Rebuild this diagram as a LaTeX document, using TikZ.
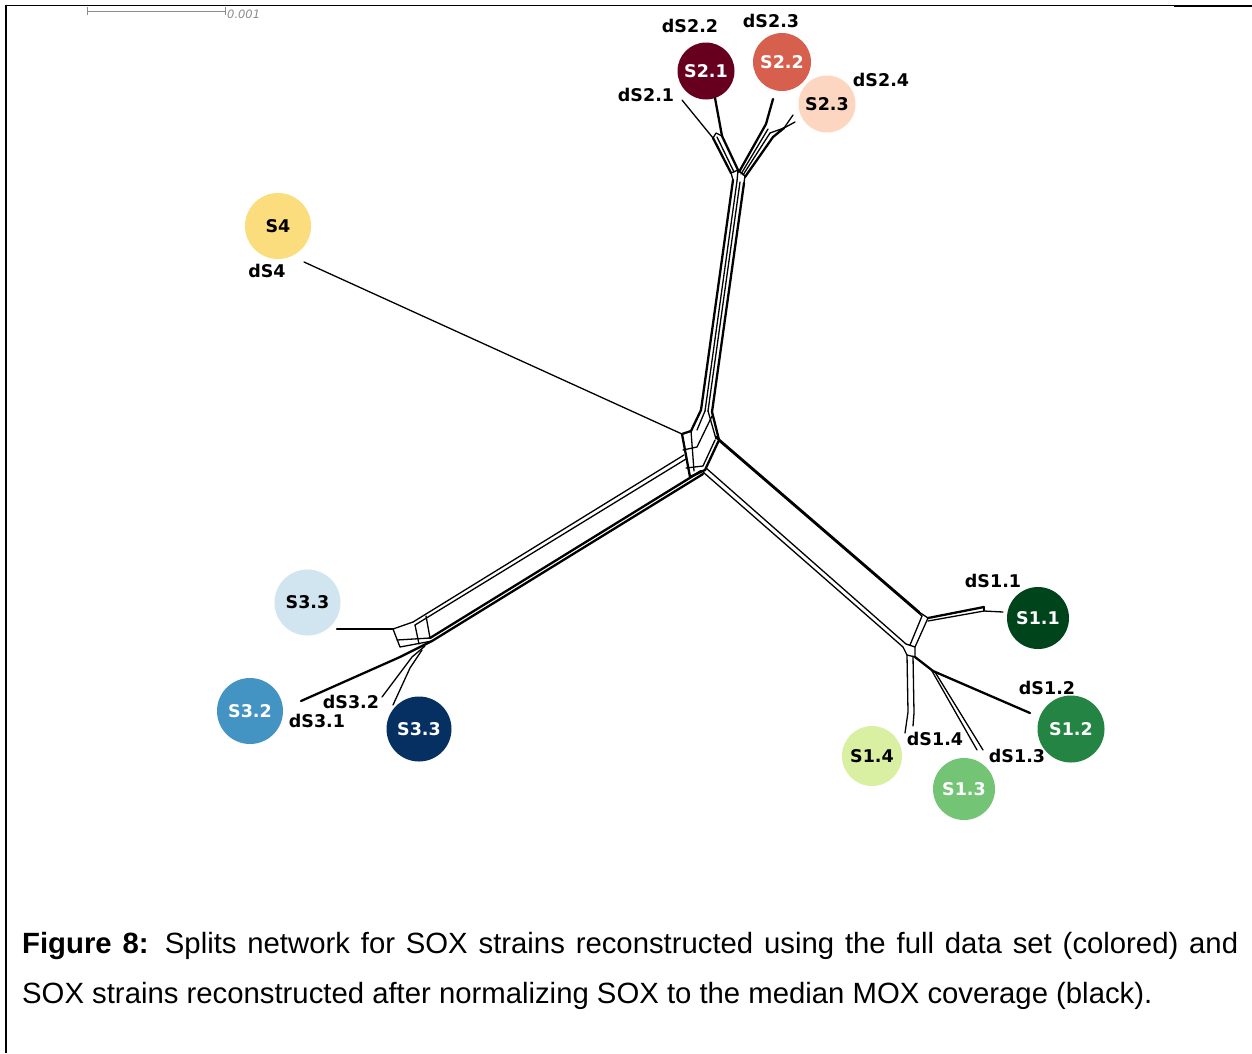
\documentclass[tikz,border=0pt]{standalone}
\usepackage{fontspec}
\setmainfont{Liberation Sans}
\newfontfamily\netfont{DejaVu Sans}
\definecolor{cSa}{HTML}{67001F}
\definecolor{cSb}{HTML}{D6604D}
\definecolor{cSc}{HTML}{FCD6C0}
\definecolor{cSf}{HTML}{FBDD7E}
\definecolor{cTa}{HTML}{D1E5F0}
\definecolor{cTb}{HTML}{4393C3}
\definecolor{cTc}{HTML}{053061}
\definecolor{cUa}{HTML}{00441B}
\definecolor{cUb}{HTML}{238443}
\definecolor{cUc}{HTML}{74C476}
\definecolor{cUd}{HTML}{D9F0A3}
\definecolor{bargray}{HTML}{8C8C8C}
\tikzset{
  strain/.style={circle, inner sep=0pt, minimum size=64pt, draw=none,
    font=\netfont\bfseries\fontsize{17.5}{17.5}\selectfont},
  lbl/.style={inner sep=0pt, font=\netfont\bfseries\fontsize{17.5}{17.5}\selectfont},
  net/.style={line width=1.3pt, line join=round, line cap=round},
  netthick/.style={line width=2.3pt, line join=round, line cap=round},
  capline/.style={anchor=base west, inner sep=0pt, font=\fontsize{29.3}{29.3}\selectfont}
}
\begin{document}
\begin{tikzpicture}[x=1pt,y=-1pt]
\useasboundingbox (0,0) rectangle (1252,1053);
\fill[white] (0,0) rectangle (1252,1053);
% frame
\draw[line width=2.2pt] (6.3,4.7) -- (6.3,1053);
\draw[line width=1pt] (6.3,5.2) -- (1174,5.2);
\draw[line width=2pt] (1174,5.7) -- (1252,5.7);
% scale bar
\draw[bargray, line width=1pt] (87,11) -- (225,11);
\draw[bargray, line width=1pt] (87,7) -- (87,15);
\draw[bargray, line width=1pt] (225,7) -- (225,15);
\node[anchor=west, inner sep=0pt, text=bargray, font=\netfont\itshape\fontsize{11.5}{11.5}\selectfont] (scale) at (227,14) {0.001};

% ---------- strain circles ----------
\node[strain, minimum size=57pt, fill=cSa, text=white] (s21) at (706,71) {S2.1};
\node[strain, minimum size=58pt, fill=cSb, text=white] (s22) at (782,62) {S2.2};
\node[strain, minimum size=57pt, fill=cSc, text=black] (s23) at (827,104) {S2.3};
\node[strain, minimum size=66pt, fill=cSf, text=black] (s4) at (278,226) {S4};
\node[strain, minimum size=66pt, fill=cTa, text=black] (s33a) at (307.5,602.5) {S3.3};
\node[strain, minimum size=66pt, fill=cTb, text=white] (s32) at (250,711) {S3.2};
\node[strain, minimum size=65pt, fill=cTc, text=white] (s33b) at (419,729) {S3.3};
\node[strain, minimum size=62pt, fill=cUa, text=white] (s11) at (1038,618) {S1.1};
\node[strain, minimum size=67pt, fill=cUb, text=white] (s12) at (1071,729) {S1.2};
\node[strain, minimum size=62pt, fill=cUc, text=white] (s13) at (964,789) {S1.3};
\node[strain, minimum size=60pt, fill=cUd, text=black] (s14) at (872,756) {S1.4};

% ---------- labels ----------
\node[lbl] (ds22) at (690,26) {dS2.2};
\node[lbl] (ds23) at (771,21) {dS2.3};
\node[lbl] (ds24) at (881,80) {dS2.4};
\node[lbl] (ds21) at (646,95) {dS2.1};
\node[lbl] (ds4) at (267,271) {dS4};
\node[lbl] (ds32) at (351,702) {dS3.2};
\node[lbl] (ds31) at (317,721) {dS3.1};
\node[lbl] (ds11) at (993,581) {dS1.1};
\node[lbl] (ds12) at (1047,688) {dS1.2};
\node[lbl] (ds14) at (935,739) {dS1.4};
\node[lbl] (ds13) at (1017,756) {dS1.3};

% ---------- network ----------
% S4 branch
\coordinate (e4) at (304,262);
\coordinate (cS4) at (682,434);
\draw[net] (e4) -- (cS4);

% central complex
\draw[netthick] (701,410) -- (691,431) -- (682,434) -- (690,477) -- (705,470) -- (719,440) -- (712,412);
\draw[net] (691,431) -- (694,471);
\draw[net] (683,450) -- (697,447) -- (712,416);
\draw[net] (686,468) -- (703,466) -- (715,440);
\draw[net] (705,411) -- (697,430);
\draw[net] (708,411) -- (716,439);

% top arm
\draw[netthick] (733,180) -- (701,410);
\draw[net] (737,181) -- (705,411);
\draw[net] (740,182) -- (708,411);
\draw[netthick] (744,183) -- (712,412);
% top junction
\draw[net] (733,180) -- (731,173) -- (738,170) -- (745,176) -- (744,183);
\draw[net] (737,181) -- (738,170);
% left bundle (S2.1)
\draw[netthick] (731,173) -- (713,138);
\draw[net] (734,172) -- (717,137);
\draw[netthick] (738,170) -- (722,136);
\draw[net] (713,138) -- (716,133) -- (722,136);
\coordinate (e21) at (682,100);
\coordinate (e22) at (715,98);
\draw[net] (713,138) -- (e21);
\draw[netthick] (722,136) -- (e22);
% right bundle (S2.2, S2.3)
\draw[netthick] (739,172) -- (766,124);
\draw[net] (741,174) -- (768,129);
\draw[net] (743,175) -- (770,133);
\draw[netthick] (745,177) -- (773,137);
\coordinate (e23) at (773,99);
\coordinate (e24a) at (793,115);
\coordinate (e24b) at (795,122);
\draw[netthick] (766,124) -- (e23);
\draw[netthick] (773,137) -- (784,128);
\draw[net] (784,128) -- (e24a);
\draw[net] (784,128) -- (e24b);
\draw[net] (770,133) -- (784,128);

% lower-left arm
\draw[net] (684,455) -- (413,622);
\draw[net] (686,459) -- (415,625);
\draw[netthick] (701,471) -- (430,638);
\draw[netthick] (703,474) -- (432,641);
% left box
\draw[net] (413,622) -- (393,629) -- (400,647) -- (432,641);
\draw[net] (415,625) -- (419,644);
\draw[net] (426,616) -- (430,638);
\draw[net] (397,640) -- (430,638);
% S3 branches
\coordinate (e33a) at (337,629);
\coordinate (e31) at (301,701);
\coordinate (e32a) at (382,697);
\coordinate (e32b) at (393,705);
\draw[netthick] (e33a) -- (393,629);
\draw[netthick] (e31) -- (400,657) -- (432,641);
\draw[net] (e32a) -- (412,657) -- (425,646);
\draw[net] (e32b) -- (410,668) -- (422,650);

% lower-right arm
\draw[netthick] (716,437) -- (919,612);
\draw[net] (719,441) -- (922,616);
\draw[net] (706,468) -- (906,644);
\draw[net] (703,472) -- (903,647);
% right box
\draw[net] (919,612) -- (928,618) -- (915,647) -- (906,644);
\draw[net] (922,616) -- (910,645);
\draw[net] (903,647) -- (907,655) -- (915,657) -- (915,647);
% S1.1 branch
\coordinate (e11) at (1003,612);
\draw[netthick] (928,618) -- (984,607);
\draw[net] (928,621) -- (984,611) -- (e11);
\draw[net] (984,607) -- (984,611);
% S1.4 branch
\coordinate (e14a) at (905,733);
\coordinate (e14b) at (913,726);
\draw[net] (907,655) -- (908,712) -- (e14a);
\draw[net] (913,656) -- (914,713) -- (e14b);
% S1.2 / S1.3 branches
\coordinate (e12) at (1030,713);
\coordinate (e13a) at (977,750);
\coordinate (e13b) at (983,750);
\draw[netthick] (915,657) -- (933,671);
\draw[netthick] (933,671) -- (e12);
\draw[net] (932,671) -- (e13a);
\draw[net] (935,672) -- (e13b);

% ---------- caption ----------
\node[capline] (cap1) at (22,953) {\makebox[1216pt][s]{\textbf{Figure 8:} Splits network for SOX strains reconstructed using the full data set (colored) and}};
\node[capline] (cap2) at (22,1003) {SOX strains reconstructed after normalizing SOX to the median MOX coverage (black).};
\end{tikzpicture}
\end{document}
